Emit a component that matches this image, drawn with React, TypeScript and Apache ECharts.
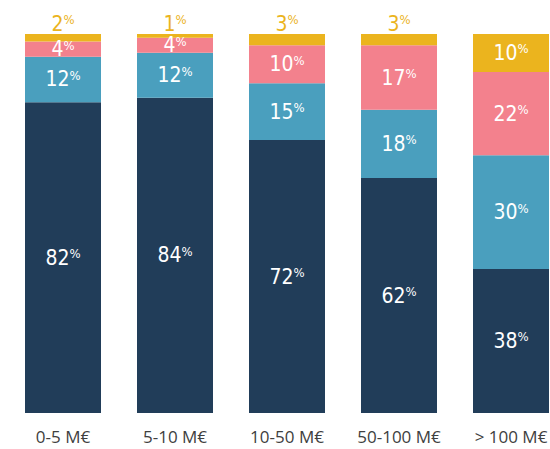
import React, { useEffect, useRef } from "react";
import * as echarts from "echarts";

const categories = ["0-5 M€", "5-10 M€", "10-50 M€", "50-100 M€", "> 100 M€"];
const darkValues = [82, 84, 72, 62, 38];
const blueValues = [12, 12, 15, 18, 30];
const pinkValues = [4, 4, 10, 17, 22];
const yellowValues = [2, 1, 3, 3, 10];

const COLORS = {
  dark: "#213D59",
  blue: "#4A9FBE",
  pink: "#F3818D",
  yellow: "#EBB41E",
};

const LABEL_FONT = "'Liberation Sans Narrow', 'DejaVu Sans Condensed', 'Roboto', sans-serif";

export default function App() {
  const ref = useRef<HTMLDivElement>(null);

  useEffect(() => {
    document.body.style.margin = "0";
    if (!ref.current) return;
    const chart = echarts.init(ref.current, null, { renderer: "svg" });

    const totals = categories.map(
      (_, i) => darkValues[i] + blueValues[i] + pinkValues[i] + yellowValues[i]
    );

    const rich = (color: string) => ({
      n: { fontSize: 21, color, fontFamily: LABEL_FONT, lineHeight: 17 },
      p: { fontSize: 13, color, fontFamily: LABEL_FONT, lineHeight: 9, padding: [0, 0, 8, 0] },
    });

    const makeSeries = (name: string, values: number[], color: string, isTop: boolean) => ({
      name,
      type: "bar",
      stack: "total",
      barWidth: 76,
      itemStyle: { color },
      data: values.map((v, i) => {
        const small = isTop && v < 5;
        return {
          value: (v / totals[i]) * 100,
          label: {
            show: true,
            position: small ? "top" : "inside",
            distance: 2,
            formatter: () => `{n|${v}}{p|%}`,
            rich: rich(small ? COLORS.yellow : "#FFFFFF"),
          },
        };
      }),
    });

    chart.setOption({
      animation: false,
      grid: { left: 7, top: 34, right: -17, bottom: 36, containLabel: false, outerBoundsMode: "none" },
      xAxis: {
        type: "category",
        data: categories,
        axisLine: { show: false },
        axisTick: { show: false },
        axisLabel: {
          color: "#404040",
          fontSize: 17,
          fontFamily: "'Open Sans', sans-serif",
          margin: 15,
          interval: 0,
          hideOverlap: false,
        },
      },
      yAxis: {
        type: "value",
        min: 0,
        max: 100,
        show: false,
        splitLine: { show: false },
      },
      series: [
        makeSeries("dark", darkValues, COLORS.dark, false),
        makeSeries("blue", blueValues, COLORS.blue, false),
        makeSeries("pink", pinkValues, COLORS.pink, false),
        makeSeries("yellow", yellowValues, COLORS.yellow, true),
      ],
    });

    return () => chart.dispose();
  }, []);

  return <div ref={ref} style={{ width: 550, height: 449 }} />;
}
